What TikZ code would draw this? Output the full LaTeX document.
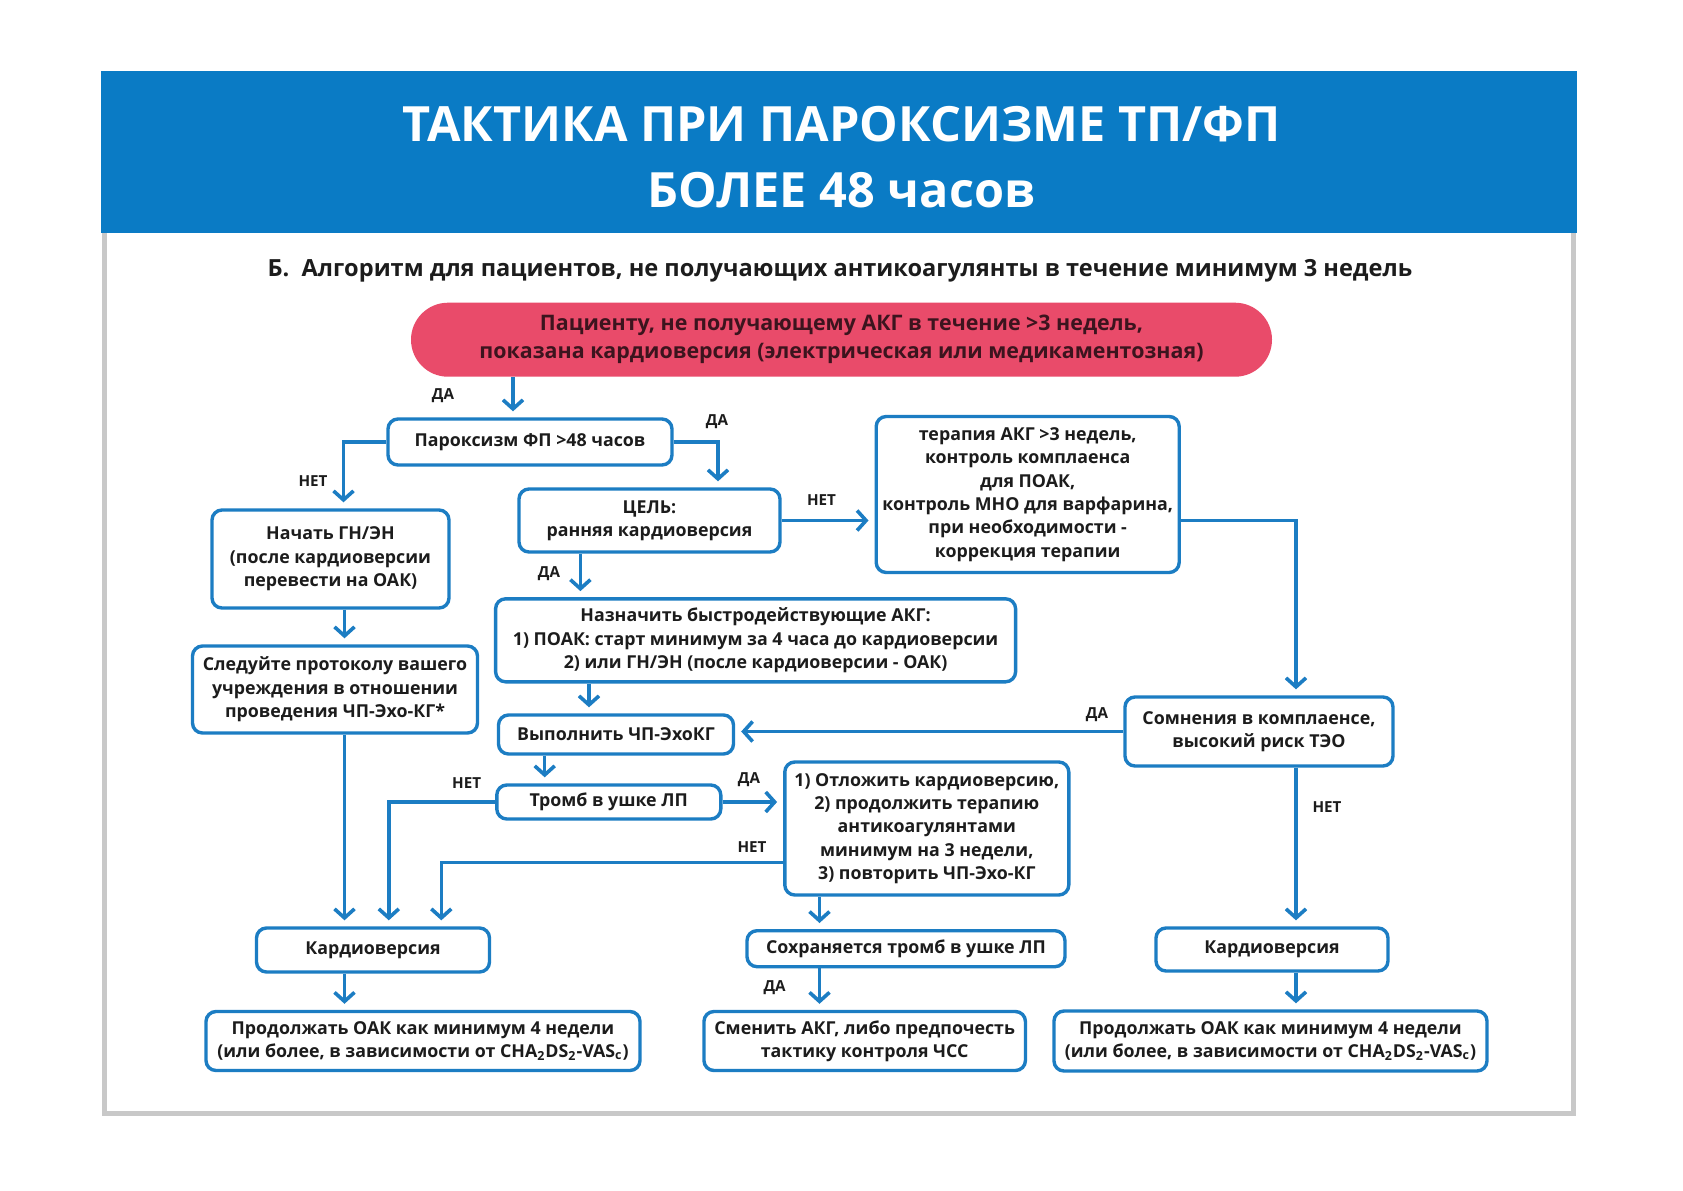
\documentclass[tikz,border=0pt]{standalone}
\usepackage{fontspec}
\setmainfont{Open Sans}
\usetikzlibrary{arrows.meta}
\definecolor{bannerblue}{RGB}{10,123,197}
\definecolor{lineblue}{RGB}{28,125,195}
\definecolor{pinkfill}{RGB}{233,75,106}
\definecolor{pinktext}{RGB}{60,20,30}
\definecolor{textdark}{RGB}{28,28,28}
\definecolor{framegray}{RGB}{200,200,200}
\begin{document}
\begin{tikzpicture}[x=0.5pt,y=-0.5pt,
  box/.style={draw=lineblue, line width=1.7pt, rounded corners=5pt, fill=white,
    align=center, inner sep=0pt, text=textdark,
    font=\bfseries\fontsize{8.9pt}{11.7pt}\selectfont},
  lab/.style={text=textdark, inner sep=0pt, font=\bfseries\fontsize{7.6pt}{9pt}\selectfont},
  arr/.style={draw=lineblue, line width=1.7pt, shorten >=3pt,
    -{Straight Barb[length=4.5pt,width=10pt,line width=1.8pt]}},
  conn/.style={draw=lineblue, line width=1.7pt}]
\useasboundingbox (0,0) rectangle (1683,1190);
\fill[white] (0,0) rectangle (1683,1190);
% frame and banner
\draw[framegray, line width=2.5pt] (104,225) -- (104,1113) -- (1573,1113) -- (1573,225);
\fill[bannerblue] (101,71) rectangle (1577,233);
\node[text=white, font=\bfseries\fontsize{24.3pt}{28pt}\selectfont, inner sep=0pt] (t1) at (841.5,124.5) {ТАКТИКА ПРИ ПАРОКСИЗМЕ ТП/ФП};
\node[text=white, font=\bfseries\fontsize{24.3pt}{28pt}\selectfont, inner sep=0pt] (t2) at (841.5,190) {БОЛЕЕ 48 часов};
\node[text=textdark, font=\bfseries\fontsize{11.8pt}{14pt}\selectfont, inner sep=0pt] (sub) at (840,270.5) {Б.\ \ Алгоритм для пациентов, не получающих антикоагулянты в течение минимум 3 недель};
% pink
\node[fill=pinkfill, rounded corners=18.5pt, minimum width=430.5pt, minimum height=37pt, inner sep=0pt,
  align=center, text=pinktext, font=\bfseries\fontsize{10.7pt}{14pt}\selectfont] (pink) at (841.5,339.7)
  {Пациенту, не получающему АКГ в течение >3 недель,\\показана кардиоверсия (электрическая или медикаментозная)};
% boxes
\node[box, minimum width=142pt, minimum height=23pt] (parox) at (530,442) {Пароксизм ФП >48 часов};
\node[box, minimum width=118.5pt, minimum height=49pt] (start) at (330.5,559) {Начать ГН/ЭН\\(после кардиоверсии\\перевести на ОАК)};
\node[box, minimum width=142.5pt, minimum height=43.5pt] (follow) at (335,689.5) {Следуйте протоколу вашего\\учреждения в отношении\\проведения ЧП-Эхо-КГ*};
\node[box, minimum width=130.5pt, minimum height=31.5pt] (goal) at (649.5,520.5) {ЦЕЛЬ:\\ранняя кардиоверсия};
\node[box, minimum width=151.5pt, minimum height=78pt] (ther) at (1027.7,494.5) {терапия АКГ >3 недель,\\контроль комплаенса\\для ПОАК,\\контроль МНО для варфарина,\\при необходимости -\\коррекция терапии};
\node[box, minimum width=260pt, minimum height=41.5pt] (assign) at (755.6,640.3) {Назначить быстродействующие АКГ:\\1) ПОАК: старт минимум за 4 часа до кардиоверсии\\2) или ГН/ЭН (после кардиоверсии - ОАК)};
\node[box, minimum width=117.5pt, minimum height=19.5pt] (tee) at (616,734.5) {Выполнить ЧП-ЭхоКГ};
\node[box, minimum width=134pt, minimum height=34.5pt] (doubt) at (1259,731.5) {Сомнения в комплаенсе,\\высокий риск ТЭО};
\node[box, minimum width=112pt, minimum height=17pt] (throm) at (608.8,802) {Тромб в ушке ЛП};
\node[box, minimum width=142pt, minimum height=66.5pt] (delay) at (926.8,828.5) {1) Отложить кардиоверсию,\\2) продолжить терапию\\антикоагулянтами\\минимум на 3 недели,\\3) повторить ЧП-Эхо-КГ};
\node[box, minimum width=159pt, minimum height=18pt] (persist) at (906,948.7) {Сохраняется тромб в ушке ЛП};
\node[box, minimum width=160.75pt, minimum height=29.5pt] (change) at (864.7,1041) {Сменить АКГ, либо предпочесть\\тактику контроля ЧСС};
\node[box, minimum width=116.5pt, minimum height=22pt] (cvL) at (373,950) {Кардиоверсия};
\node[box, minimum width=217pt, minimum height=29.5pt] (oakL) at (423,1041) {Продолжать ОАК как минимум 4 недели\\(или более, в зависимости от CHA\textsubscript{2}DS\textsubscript{2}-VAS\textsubscript{c})};
\node[box, minimum width=116pt, minimum height=21.5pt] (cvR) at (1272,949.5) {Кардиоверсия};
\node[box, minimum width=216.5pt, minimum height=30pt] (oakR) at (1270.5,1041) {Продолжать ОАК как минимум 4 недели\\(или более, в зависимости от CHA\textsubscript{2}DS\textsubscript{2}-VAS\textsubscript{c})};
% column coordinates
\coordinate (xa) at (513,0);
\coordinate (xb) at (343.5,0);
\coordinate (xc) at (718,0);
\coordinate (xd) at (344.5,0);
\coordinate (xe) at (580.4,0);
\coordinate (xf) at (589,0);
\coordinate (xg) at (544.7,0);
\coordinate (xh) at (388.8,0);
\coordinate (xi) at (819.5,0);
\coordinate (xj) at (1296,0);
\coordinate (k1) at (1296,520.7);
\coordinate (k2) at (441.3,862.7);
% connectors
\draw[arr] (pink.south -| xa) -- (parox.north -| xa);
\draw[arr] (parox.west) -| (xb |- start.north);
\draw[arr] (parox.east) -| (xc |- goal.north);
\draw[arr] (start.south -| xd) -- (follow.north -| xd);
\draw[arr] (follow.south -| xd) -- (cvL.north -| xd);
\draw[arr] (goal.east) -- (ther.west |- goal.east);
\draw[arr] (ther.east |- k1) -- (k1) -- (k1 |- doubt.north);
\draw[arr] (goal.south -| xe) -- (assign.north -| xe);
\draw[arr] (assign.south -| xf) -- (tee.north -| xf);
\draw[arr] (doubt.west) -- (tee.east |- doubt.west);
\draw[arr] (tee.south -| xg) -- (throm.north -| xg);
\draw[arr] (throm.east) -- (delay.west |- throm.east);
\draw[arr] (throm.west) -| (xh |- cvL.north);
\draw[arr] (delay.west |- k2) -- (k2) -- (k2 |- cvL.north);
\draw[arr] (delay.south -| xi) -- (persist.north -| xi);
\draw[arr] (persist.south -| xi) -- (change.north -| xi);
\draw[arr] (doubt.south -| xj) -- (cvR.north -| xj);
\draw[arr] (cvL.south -| xd) -- (oakL.north -| xd);
\draw[arr] (cvR.south -| xj) -- (oakR.north -| xj);
% labels
\node[lab] (l1) at (443,396) {ДА};
\node[lab] (l2) at (313,481) {НЕТ};
\node[lab] (l3) at (717,422) {ДА};
\node[lab] (l4) at (821.5,500) {НЕТ};
\node[lab] (l5) at (549,574) {ДА};
\node[lab] (l6) at (1097,715) {ДА};
\node[lab] (l7) at (749,780) {ДА};
\node[lab] (l8) at (466.6,783) {НЕТ};
\node[lab] (l9) at (752,847) {НЕТ};
\node[lab] (l10) at (774.6,988) {ДА};
\node[lab] (l11) at (1327,807) {НЕТ};
\end{tikzpicture}
\end{document}
